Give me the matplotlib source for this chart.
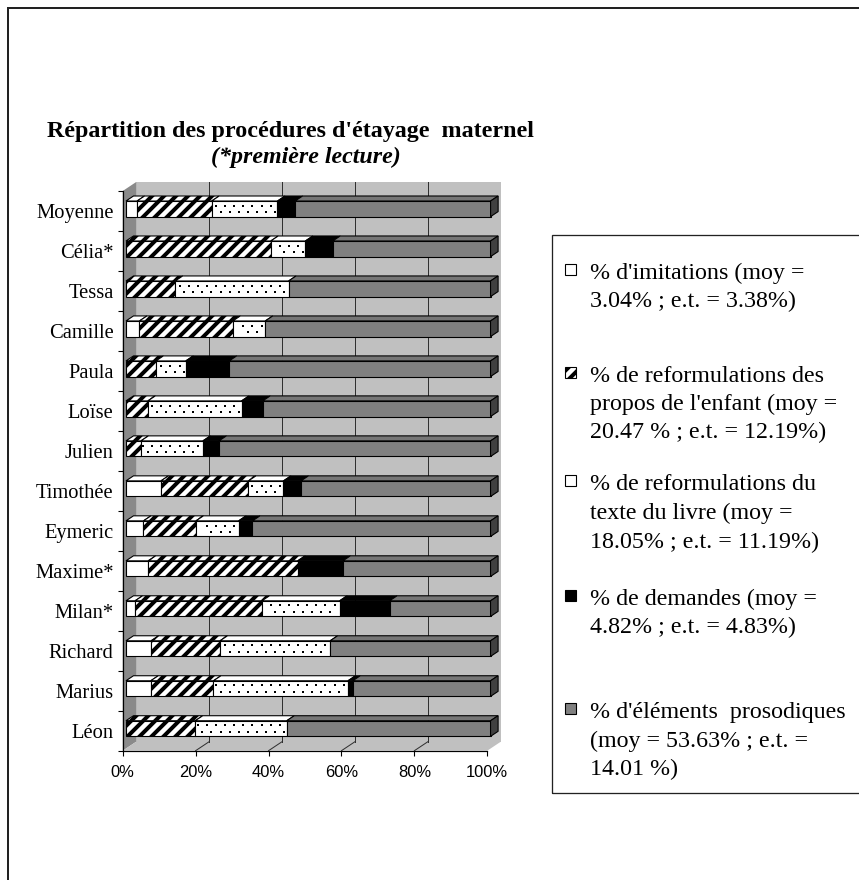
import matplotlib
matplotlib.use("Agg")
import matplotlib.pyplot as plt
from matplotlib.patches import Polygon, Rectangle
from matplotlib.lines import Line2D
import numpy as np

# ---- data (percent of maternal scaffolding procedures) ----
categories = ["Moyenne", "Célia*", "Tessa", "Camille", "Paula", "Loïse", "Julien",
              "Timothée", "Eymeric", "Maxime*", "Milan*", "Richard", "Marius", "Léon"]
imitations = [3.04, 0, 0, 3.7, 0, 0, 0, 9.6, 4.8, 6.1, 2.5, 6.9, 6.8, 0]
reform_enfant = [20.47, 39.7, 13.5, 25.6, 8.2, 6.0, 4.1, 24.0, 14.4, 41.0, 34.8, 18.9, 17.2, 19.0]
reform_livre = [18.05, 9.5, 31.1, 8.9, 8.2, 25.7, 17.0, 9.6, 11.7, 0, 21.3, 30.2, 36.9, 25.1]
demandes = [4.82, 7.5, 0, 0, 11.9, 5.8, 4.4, 4.8, 3.8, 12.4, 13.7, 0, 1.3, 0]
prosodiques = [53.63, 43.3, 55.4, 61.8, 71.7, 62.5, 74.5, 52.0, 65.3, 40.5, 27.7, 44.0, 37.8, 55.9]

xticks = [0, 20, 40, 60, 80, 100]
xtick_labels = ["0%", "20%", "40%", "60%", "80%", "100%"]

title = "Répartition des procédures d'étayage  maternel"
subtitle = "(*première lecture)"

legend_entries = [
    ["% d'imitations (moy =", "3.04% ; e.t. = 3.38%)"],
    ["% de reformulations des", "propos de l'enfant (moy =", "20.47 % ; e.t. = 12.19%)"],
    ["% de reformulations du", "texte du livre (moy =", "18.05% ; e.t. = 11.19%)"],
    ["% de demandes (moy =", "4.82% ; e.t. = 4.83%)"],
    ["% d'éléments  prosodiques", "(moy = 53.63% ; e.t. =", "14.01 %)"],
]

# ---- styling ----
W, H, DPI = 859, 880, 72
SERIF = "Liberation Serif"
SANS = "Liberation Sans"
WALL = "#c0c0c0"
SIDE = "#8a8a8a"
GRAY = "#808080"
GRAY_TOP = "#767676"
GRAY_END = "#404040"
plt.rcParams["hatch.linewidth"] = 4.0

series = [
    dict(values=imitations, fc="white", hatch=None, dots=False),
    dict(values=reform_enfant, fc="white", hatch="//", dots=False),
    dict(values=reform_livre, fc="white", hatch=None, dots=True),
    dict(values=demandes, fc="black", hatch=None, dots=False),
    dict(values=prosodiques, fc=GRAY, hatch=None, dots=False),
]


def fx(px):
    return px / W


def fy(py):
    return 1 - py / H


fig = plt.figure(figsize=(W / DPI, H / DPI), dpi=DPI)
fig.patch.set_facecolor("white")

# plot frame (front plane): x 0..100 %, y 0..n categories (top -> bottom)
x0, x1, ytop, ybot = 122.7, 487.3, 191.0, 750.7
ax = fig.add_axes([fx(x0), fy(ybot), (x1 - x0) / W, (ybot - ytop) / H])
n = len(categories)
ax.set_xlim(0, 100)
ax.set_ylim(n, 0)
ax.patch.set_visible(False)

# depth of the 3-D box (in data units)
DX, DY = 3.70, -0.225
# bar position within the depth
dx0, dy0 = 0.24 * DX, 0.24 * DY
bdx, bdy = 0.56 * DX, 0.56 * DY
bar_h = 0.39

# walls and floor
ax.add_patch(Polygon([(DX, DY), (100 + DX, DY), (100 + DX, n + DY), (DX, n + DY)],
                     closed=True, fc=WALL, ec="none", zorder=0, clip_on=False))
ax.add_patch(Polygon([(0, 0), (DX, DY), (DX, n + DY), (0, n)],
                     closed=True, fc=SIDE, ec="none", zorder=0.5, clip_on=False))
ax.add_patch(Polygon([(0, n), (100, n), (100 + DX, n + DY), (DX, n + DY)],
                     closed=True, fc=WALL, ec="none", zorder=0.5, clip_on=False))

# gridlines on the back wall and floor
for v in xticks[1:-1]:
    ax.add_line(Line2D([v + DX, v + DX], [DY, n + DY], color="#303030", lw=1.0,
                       zorder=1, clip_on=False))
    ax.add_line(Line2D([v, v + DX], [n, n + DY], color="#303030", lw=1.0,
                       zorder=1, clip_on=False))

# stacked 3-D bars
dot_step = 2.5
for i in range(n):
    c = i + 0.5 + dy0
    top = c - bar_h / 2
    left = 0.0
    for k, s in enumerate(series):
        v = s["values"][i]
        if v <= 0:
            continue
        right = left + v
        is_gray = s["fc"] == GRAY
        top_fc = GRAY_TOP if is_gray else s["fc"]
        ax.add_patch(Polygon([(left + dx0, top), (right + dx0, top),
                              (right + dx0 + bdx, top + bdy), (left + dx0 + bdx, top + bdy)],
                             closed=True, fc=top_fc, ec="black", lw=1.1,
                             hatch=s["hatch"], zorder=3, clip_on=False))
        ax.add_patch(Rectangle((left + dx0, top), v, bar_h, fc=s["fc"], ec="black",
                               lw=1.1, hatch=s["hatch"], zorder=3, clip_on=False))
        if s["dots"]:
            for r, frac in enumerate((0.3, 0.72)):
                start = np.ceil((left + dx0) / dot_step) * dot_step + (dot_step / 2 if r else 0)
                xs = np.arange(start + 0.6, right + dx0 - 0.4, dot_step)
                if len(xs):
                    ax.scatter(xs, np.full(len(xs), top + frac * bar_h), s=2.2,
                               color="black", marker="s", linewidths=0,
                               zorder=3.5, clip_on=False)
        left = right
    # end face of the bar
    R = left
    ax.add_patch(Polygon([(R + dx0, top), (R + dx0 + bdx, top + bdy),
                          (R + dx0 + bdx, top + bar_h + bdy), (R + dx0, top + bar_h)],
                         closed=True, fc=GRAY_END, ec="black", lw=1.1, zorder=3, clip_on=False))

# axes
for side in ("top", "right"):
    ax.spines[side].set_visible(False)
for side in ("left", "bottom"):
    ax.spines[side].set_color("black")
    ax.spines[side].set_linewidth(1.2)
    ax.spines[side].set_zorder(4)

ax.set_xticks(xticks)
ax.set_xticklabels(xtick_labels, fontsize=16.5, family=SANS)
ax.tick_params(axis="x", direction="out", length=5, width=1.1, pad=9, color="black")

ax.set_yticks(np.arange(n + 1))
ax.set_yticklabels([])
ax.tick_params(axis="y", which="major", direction="out", length=5, width=1.1, color="black")
ax.set_yticks(np.arange(n) + 0.5, minor=True)
ax.set_yticklabels(categories, minor=True, fontsize=20.5, family=SERIF)
ax.tick_params(axis="y", which="minor", length=0, pad=9)

# titles
fig.text(fx(290), fy(136.7), title, ha="center", va="baseline", fontsize=24,
         fontweight="bold", family=SERIF)
fig.text(fx(306), fy(162.5), subtitle, ha="center", va="baseline", fontsize=24,
         fontweight="bold", fontstyle="italic", family=SERIF)

# legend box
fig.add_artist(Rectangle((fx(551.7), fy(793)), fx(900) - fx(551.7), (793 - 235) / H,
                         transform=fig.transFigure, fill=False, ec="#222222", lw=1.3))
baselines = [[279, 307], [382, 410, 438], [490, 519, 548], [605, 633], [718, 747, 775]]
marker_styles = [
    dict(fc="white", hatch=None),
    dict(fc="white", hatch="//"),
    dict(fc="white", hatch=None),
    dict(fc="black", hatch=None),
    dict(fc=GRAY, hatch=None),
]
for lines, ys, ms in zip(legend_entries, baselines, marker_styles):
    fig.add_artist(Rectangle((fx(565), fy(ys[0] - 4)), 11 / W, 11 / H,
                             transform=fig.transFigure, fc=ms["fc"], ec="black",
                             lw=1.1, hatch=ms["hatch"]))
    for txt, yb in zip(lines, ys):
        fig.text(fx(590), fy(yb), txt, ha="left", va="baseline", fontsize=24, family=SERIF)

# outer frame
fig.add_artist(Line2D([fx(8), fx(8)], [fy(8), fy(900)], transform=fig.transFigure,
                      color="#222222", lw=2))
fig.add_artist(Line2D([fx(8), fx(900)], [fy(8), fy(8)], transform=fig.transFigure,
                      color="#222222", lw=2))

fig.savefig("out.png", dpi=DPI, facecolor="white")
